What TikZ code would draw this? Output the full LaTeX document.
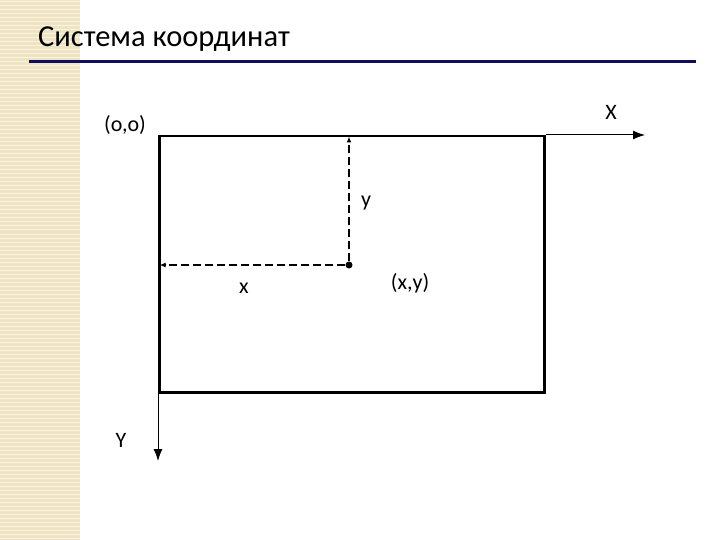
\documentclass[tikz,border=0pt]{standalone}
\usepackage{fontspec}
\setmainfont{Carlito}
\usetikzlibrary{positioning}
\usetikzlibrary{arrows.meta}
\definecolor{stripbg}{RGB}{238,228,196}
\definecolor{stripline}{RGB}{250,244,222}
\definecolor{titlerule}{RGB}{14,14,92}

\begin{document}
\begin{tikzpicture}[x=1pt,y=-1pt,
	axis/.style={line width=1pt,-{Latex[length=12pt,width=9pt]}},
	guide/.style={line width=2pt,dash pattern=on 8pt off 4pt,shorten >=1.5pt,-{Latex[length=6pt,width=5pt]}},
	lbl/.style={font=\fontsize{22}{26}\selectfont}]
	\useasboundingbox (0,0) rectangle (720,540);
	% left strip
	\fill[stripbg] (0,0) rectangle (80,540);
	\foreach \y in {2,6,...,538} \draw[stripline,line width=1pt] (0,\y) -- (80,\y);
	% title
	\node[anchor=base west,inner sep=0,font=\fontsize{30.5}{34}\selectfont] (Title) at (38,47) {Система координат};
	\draw[titlerule,line width=3pt] (29,62) -- (696,62);
	% frame and axes
	\node[draw,line width=2.5pt,minimum width=385pt,minimum height=256pt,anchor=north west,inner sep=0] (Frame) at (158,135) {};
	\coordinate (XEnd) at (645,135);
	\coordinate (YEnd) at (158,461);
	\draw[axis] (Frame.north east) -- (XEnd);
	\draw[axis] (Frame.south west) -- (YEnd);
	% point and its distances
	\node[circle,fill,inner sep=0,minimum size=7pt] (Point) at (349,265) {};
	\draw[guide] (Point) -- (Point |- Frame.north);
	\draw[guide] (Point) -- (Point -| Frame.west);
	% labels
	\node[lbl] (Origin) at (125,125) {(o,o)};
	\node[lbl] (XLabel) at (611,112) {X};
	\node[lbl] (YLabel) at (121,440) {Y};
	\node[lbl] (yDist) at (366,203) {y};
	\node[lbl] (xDist) at (244,288) {x};
	\node[lbl] (PLabel) at (410,283) {(x,y)};
\end{tikzpicture}
\end{document}
